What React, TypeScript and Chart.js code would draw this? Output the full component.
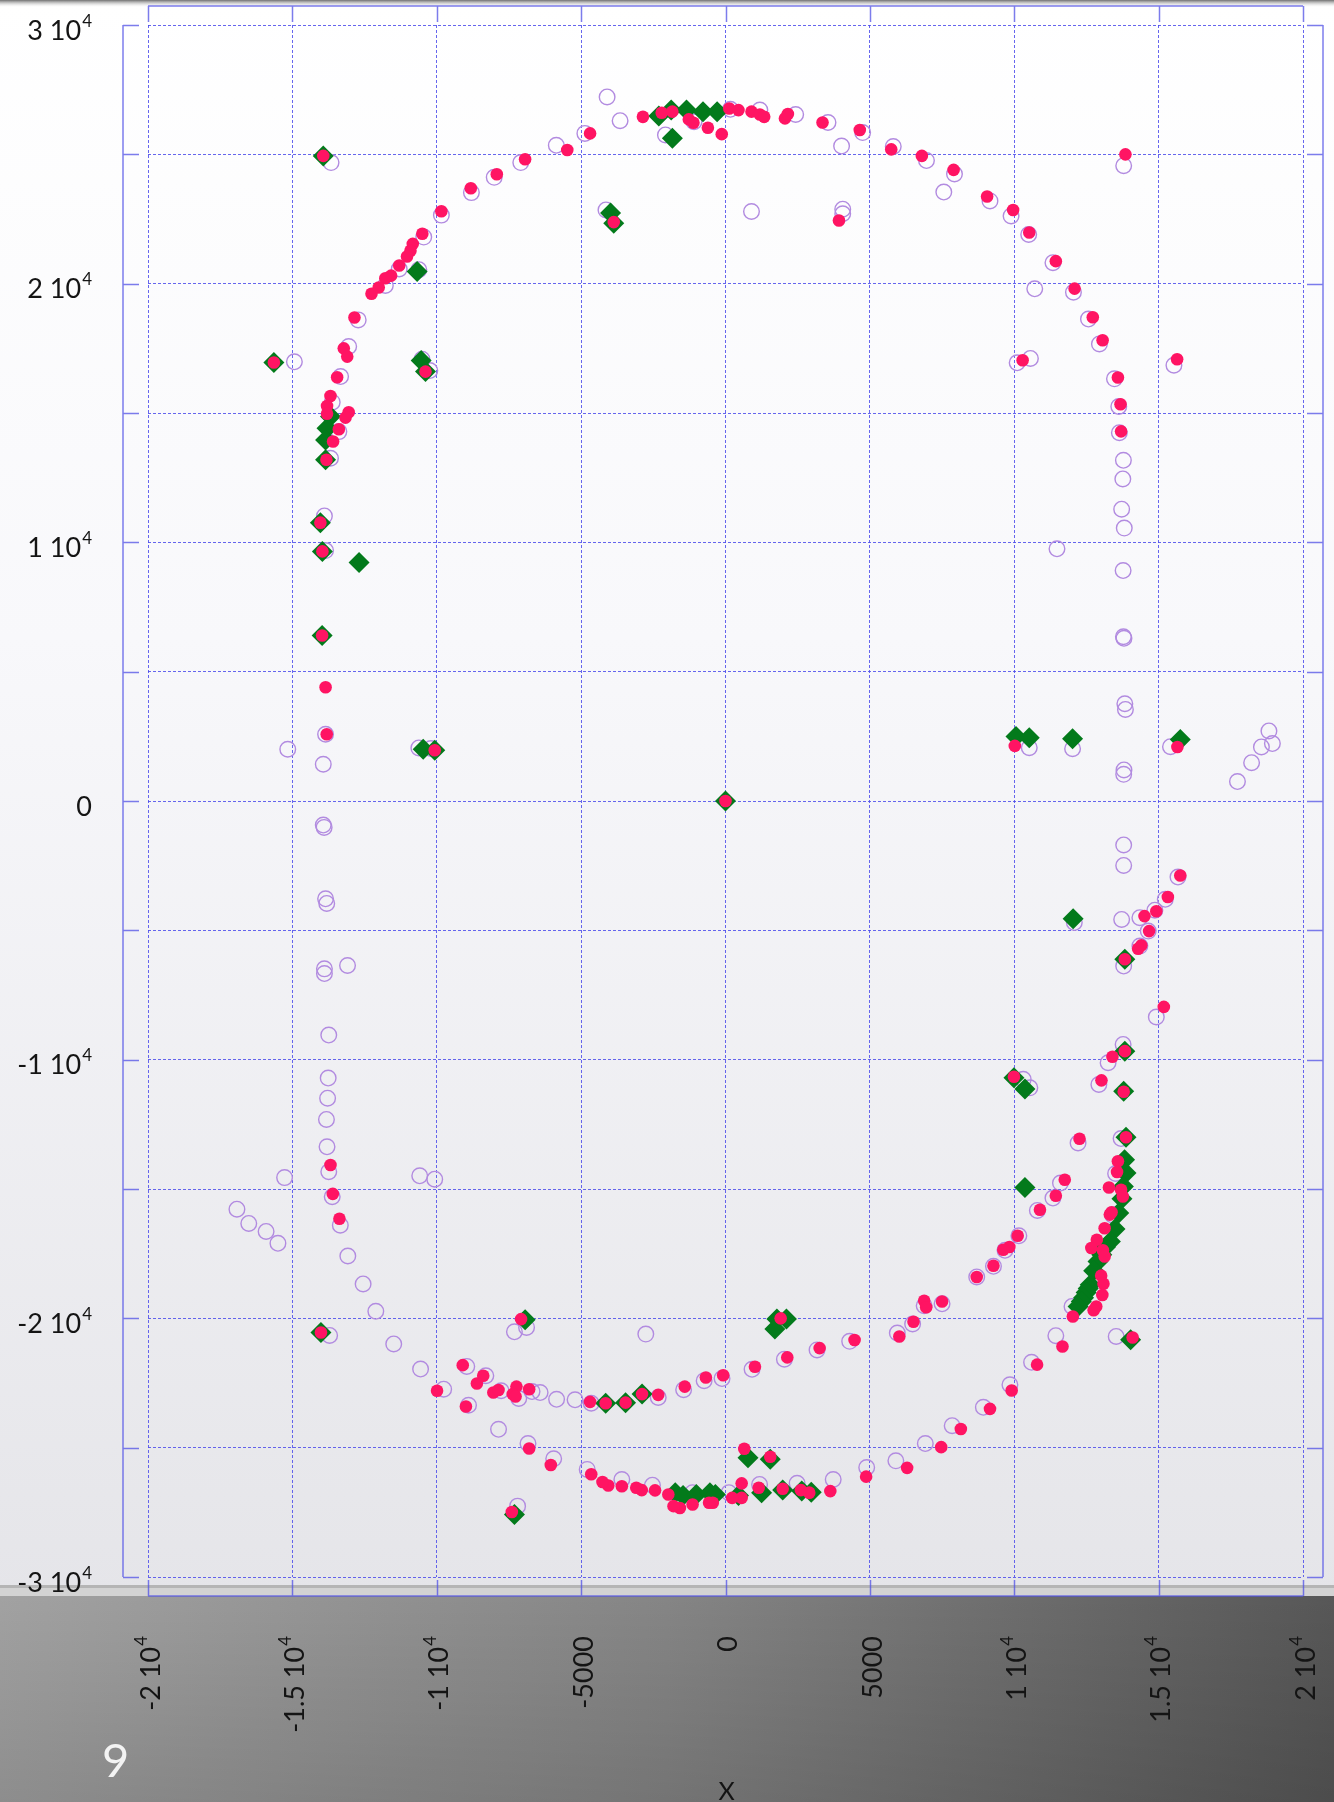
import React, { useEffect, useRef } from "react";
import { Chart, registerables } from "chart.js";

Chart.register(...registerables);

// ---------------- tick labels ----------------
const xTickValues = [-20000, -15000, -10000, -5000, 0, 5000, 10000, 15000, 20000];
const xTickLabels = ["-2 10^4", "-1.5 10^4", "-1 10^4", "-5000", "0", "5000", "1 10^4", "1.5 10^4", "2 10^4"];
const yTickValues = [30000, 20000, 10000, 0, -10000, -20000, -30000];
const yTickLabels = ["3 10^4", "2 10^4", "1 10^4", "0", "-1 10^4", "-2 10^4", "-3 10^4"];
const xAxisTitle = "X";
const cornerLabel = "9";

// ---------------- series: hollow purple circles ----------------
const hollowTopArc: [number, number][] = [
  [-4100, 27220], [-3650, 26300], [-4870, 25810], [-5860, 25350], [-7090, 24680], [-8010, 24110], [-8800, 23520], [-9840, 22650],
  [-2080, 25750], [-1090, 26260], [170, 26740], [1190, 26710], [2430, 26540], [3550, 26230], [4750, 25840], [4020, 25320],
  [5810, 25300], [6960, 24760], [7560, 23540], [7930, 24240], [9160, 23200], [9890, 22620], [10500, 21900],
  [-4140, 22850], [900, 22790], [4060, 22880], [4060, 22700],
];
const hollowLeft: [number, number][] = [
  [-13660, 24680], [-10450, 21800], [-11300, 20570], [-11780, 19930], [-12720, 18600], [-13050, 17570], [-13330, 16410],
  [-13620, 15420], [-14930, 16980], [-13390, 14280], [-13680, 13250], [-13890, 11020], [-13850, 9680], [-10620, 20540],
  [-10510, 17080], [-10240, 16640],
  [-13850, 2580], [-15160, 2000], [-13930, 1420], [-13930, -930], [-13900, -1020], [-13850, -3780], [-13810, -3960],
  [-13890, -6490], [-13890, -6670], [-13090, -6360], [-10590, -14490], [-10070, -14620], [-10620, 2050], [-10200, 2030],
  [-13740, -9050], [-13760, -10710], [-13780, -11490], [-13820, -12310], [-13800, -13370], [-13740, -14330], [-13620, -15300],
  [-13340, -16400], [-15270, -14560], [-16920, -15780], [-16510, -16330], [-15910, -16640], [-15500, -17100], [-13080, -17590],
  [-12550, -18670], [-12110, -19730], [-11490, -20990], [-13710, -20660],
];
const hollowRight: [number, number][] = [
  [13790, 24560], [11340, 20810], [12050, 19670], [12570, 18630], [12950, 17670], [10100, 16940], [10560, 17110], [15530, 16850],
  [13470, 16320], [13620, 15250], [13640, 14240], [10710, 19800], [13780, 13170], [13760, 12450], [13720, 11280], [13810, 10550],
  [11480, 9750], [13770, 8910], [13780, 6350], [13800, 6290],
  [13830, 3760], [13850, 3540], [13800, 1200], [13790, 1030], [18820, 2710], [18560, 2090], [18940, 2220], [18220, 1480],
  [17730, 750], [10520, 2060], [12020, 2020], [15410, 2100], [13790, -1700], [13790, -2490], [13720, -4580], [12080, -4700],
  [14350, -4510], [14870, -4220], [15230, -3800], [15670, -2940], [14640, -5030], [14350, -5610], [13790, -6380], [14920, -8350],
  [13770, -9410], [13250, -10120], [12930, -10960], [10310, -10760], [10540, -11090],
  [12210, -13220], [13700, -13050], [11600, -14770], [11340, -15350], [10800, -15830], [10160, -16810], [9680, -17370],
  [9280, -17990], [8700, -18400], [7500, -19440], [11440, -20670], [13530, -20700], [12000, -19540], [10600, -21700],
  [9850, -22570], [8930, -23440], [13510, -14400], [13400, -16000],
];
const hollowBottom: [number, number][] = [
  [-7310, -20520], [-6890, -20350], [-7200, -27260], [-8960, -21860], [-8300, -22220], [-9760, -22740], [-7770, -22800],
  [-7160, -23100], [-6700, -22830], [-6420, -22870], [-8900, -23360], [-4650, -23280], [-2330, -23060], [-1450, -22760],
  [-740, -22410], [-120, -22330], [920, -21970], [2040, -21580], [3170, -21220], [4300, -20890], [5950, -20570], [6480, -20220],
  [6880, -19510], [7850, -24150], [6920, -24840], [5900, -25510], [4890, -25770], [3730, -26230], [2480, -26380], [1180, -26420],
  [120, -26740], [-1140, -26740], [-2530, -26450], [-3590, -26230], [-4790, -25840], [-5950, -25430], [-6840, -24840],
  [-10560, -21960], [-5850, -23130], [-5210, -23150], [-2760, -20610], [-7860, -24290],
];

// ---------------- series: filled pink circles ----------------
const pinkTopArc: [number, number][] = [
  [-9840, 22800], [-8820, 23690], [-7920, 24230], [-6940, 24810], [-5480, 25170], [-4690, 25810], [-2860, 26450], [-2210, 26610],
  [-1840, 26650], [-1270, 26350], [-1110, 26220], [-610, 26030], [-130, 25780], [130, 26770], [450, 26710], [900, 26650],
  [1190, 26540], [1340, 26450], [2060, 26390], [2160, 26560], [3360, 26230], [4650, 25940], [5740, 25190], [6800, 24940],
  [7900, 24400], [9060, 23370], [9960, 22850], [10520, 21980], [-3870, 22380], [3930, 22440],
];
const pinkLeft: [number, number][] = [
  [-13930, 24940], [-10500, 21930], [-10830, 21540], [-10910, 21270], [-11030, 21050], [-11300, 20700], [-11580, 20310],
  [-11780, 20210], [-12010, 19850], [-12260, 19610], [-12850, 18690], [-13220, 17500], [-13100, 17180], [-13450, 16380],
  [-13680, 15660], [-13800, 15270], [-13800, 14970], [-13050, 15030], [-13160, 14820], [-13390, 14370], [-13590, 13900],
  [-13820, 13190], [-15640, 16950], [-10390, 16600], [-14030, 10760], [-13960, 9650],
  [-13970, 6400], [-13850, 4400], [-13810, 2580], [-13680, -14070], [-13600, -15190], [-13370, -16150], [-14010, -20550],
  [0, 0], [-10070, 1960],
];
const pinkRight: [number, number][] = [
  [13850, 25000], [11440, 20870], [12090, 19810], [12720, 18700], [13060, 17810], [10290, 17040], [15640, 17080], [13590, 16370],
  [13680, 15340], [13700, 14290],
  [10020, 2130], [15650, 2090], [15750, -2880], [15320, -3710], [14920, -4260], [14510, -4450], [14670, -5030], [14400, -5580],
  [14290, -5710], [13830, -6120], [15180, -7960], [13830, -9670], [13400, -9890], [13020, -10800], [9990, -10660], [13790, -11240],
  [12260, -13060], [13870, -13000], [11750, -14640], [11440, -15260], [10890, -15800], [10120, -16810], [9830, -17240],
  [9620, -17350], [9280, -17970], [8700, -18400], [7500, -19350],
  [13590, -13930], [13560, -14340], [13280, -14940], [13700, -15030], [13760, -15290], [13310, -15990], [13370, -15900],
  [13130, -16520], [12860, -16960], [12670, -17280], [13070, -17370], [13130, -17610], [13010, -18350], [13090, -18660],
  [13050, -19100], [12840, -19540], [12750, -19690], [12030, -19930],
  [14100, -20740], [11670, -21090], [10790, -21790], [9910, -22790], [9160, -23500], [8150, -24280], [7470, -24980],
];
const pinkBottom: [number, number][] = [
  [-7080, -20030], [-7400, -27490], [-4150, -23280], [-3460, -23260], [-2890, -22930], [1910, -20000], [650, -25040], [1550, -25350],
  [-9100, -21810], [-8390, -22220], [-8610, -22520], [-9990, -22800], [-8040, -22870], [-7860, -22770], [-7240, -22640],
  [-7370, -22930], [-7270, -23020], [-6800, -22740], [-8990, -23410], [-4690, -23230], [-2330, -22960], [-1410, -22640],
  [-680, -22290], [-80, -22200], [1020, -21870], [2140, -21510], [3260, -21150], [4470, -20840], [6020, -20700], [6510, -20130],
  [6880, -19320], [6950, -19570], [6290, -25780], [4870, -26120], [3630, -26680], [2900, -26740], [2610, -26640], [1980, -26590],
  [1150, -26550], [560, -26380], [560, -26940], [230, -26940], [-440, -27130], [-570, -27130], [-1140, -27200], [-1580, -27330],
  [-1800, -27260], [-1980, -26810], [-2440, -26650], [-2900, -26640], [-3090, -26550], [-3590, -26490], [-4060, -26460],
  [-4260, -26330], [-4650, -26030], [-6050, -25670], [-6800, -25030],
];

// ---------------- series: green diamonds ----------------
const diamondUpper: [number, number][] = [
  [-2310, 26480], [-1880, 26710], [-1350, 26710], [-780, 26650], [-290, 26650], [-1840, 25620], [-3980, 22730], [-3870, 22340],
  [-13930, 24940], [-10680, 20470], [-15640, 16950], [-10540, 17030], [-10390, 16600], [-13680, 14860], [-13800, 14410],
  [-13850, 13960], [-13850, 13190], [-14030, 10760], [-13960, 9650], [-12690, 9220],
  [-13970, 6400], [-10470, 2000], [-10070, 1960], [0, 0],
  [10060, 2490], [10520, 2450], [12020, 2410], [15750, 2380],
];
const diamondLower: [number, number][] = [
  [12040, -4550], [13830, -6120], [13830, -9670], [9990, -10700], [10370, -11130], [13790, -11220],
  [13870, -13000], [10370, -14940], [13820, -13870], [13870, -14380], [13780, -14900], [13730, -15380], [13620, -15930],
  [13490, -16550], [13330, -17030], [13160, -17240], [13030, -17540], [12900, -17800], [12750, -18160], [12630, -18700],
  [12560, -18850], [12490, -19000], [12400, -19200], [12320, -19350], [12210, -19540], [14030, -20830],
  [-14010, -20550],
  [-6940, -20050], [-7310, -27580], [-4150, -23280], [-3460, -23260], [-2890, -22930], [1780, -20030], [2110, -20030],
  [1710, -20410], [780, -25390], [1550, -25450], [-1740, -26740], [-1470, -26850], [-1010, -26810], [-540, -26740],
  [-350, -26810], [450, -26850], [1250, -26740], [1980, -26640], [2640, -26680], [2970, -26720],
];

const toXY = (arr: [number, number][]) => arr.map(([x, y]) => ({ x, y }));

const FONT = "Lato, 'DejaVu Sans', sans-serif";

function drawPowLabel(ctx: CanvasRenderingContext2D, text: string, rightX: number, cy: number, size: number) {
  const parts = text.split("^");
  const base = parts[0];
  const exp = parts[1] || "";
  const expSize = Math.round(size * 0.62);
  ctx.font = `${size}px ${FONT}`;
  const wb = ctx.measureText(base).width;
  ctx.font = `${expSize}px ${FONT}`;
  const we = exp ? ctx.measureText(exp).width : 0;
  const gap = exp ? 1 : 0;
  ctx.textAlign = "left";
  ctx.textBaseline = "middle";
  ctx.font = `${size}px ${FONT}`;
  ctx.fillText(base, rightX - we - gap - wb, cy);
  if (exp) {
    ctx.font = `${expSize}px ${FONT}`;
    ctx.fillText(exp, rightX - we, cy - size * 0.36);
  }
}

const backgroundPlugin = {
  id: "photoBackground",
  beforeDraw(chart: any) {
    const ctx: CanvasRenderingContext2D = chart.ctx;
    const W = chart.width;
    const H = chart.height;
    const area = chart.chartArea;
    const edge = area.bottom + 19;
    ctx.save();
    const g = ctx.createLinearGradient(0, 0, 0, edge);
    g.addColorStop(0, "#ffffff");
    g.addColorStop(0.4, "#f8f8fb");
    g.addColorStop(1, "#e5e5e9");
    ctx.fillStyle = g;
    ctx.fillRect(0, 0, W, edge);
    const t = ctx.createLinearGradient(0, 0, 0, 7);
    t.addColorStop(0, "#707070");
    t.addColorStop(1, "rgba(230,230,230,0)");
    ctx.fillStyle = t;
    ctx.fillRect(0, 0, W, 7);
    ctx.fillStyle = "#b5b5b5";
    ctx.fillRect(0, edge - 11, W, 3);
    ctx.fillStyle = "#d3d3d3";
    ctx.fillRect(0, edge - 8, W, 8);
    const d = ctx.createLinearGradient(0, edge, W, edge);
    d.addColorStop(0, "#a2a2a2");
    d.addColorStop(0.5, "#858585");
    d.addColorStop(1, "#575757");
    ctx.fillStyle = d;
    ctx.fillRect(0, edge, W, H - edge);
    const v = ctx.createLinearGradient(0, edge, 0, H);
    v.addColorStop(0, "rgba(0,0,0,0)");
    v.addColorStop(1, "rgba(0,0,0,0.13)");
    ctx.fillStyle = v;
    ctx.fillRect(0, edge, W, H - edge);
    ctx.restore();
  },
};

const axesPlugin = {
  id: "offsetAxes",
  afterDraw(chart: any) {
    const ctx: CanvasRenderingContext2D = chart.ctx;
    const a = chart.chartArea;
    const xs = chart.scales.x;
    const ys = chart.scales.y;
    const L = a.left - 25;
    const R = a.right + 20;
    const T = a.top - 19;
    const B = a.bottom + 19;
    const tl = 16;
    ctx.save();
    ctx.strokeStyle = "rgba(80,80,230,0.75)";
    ctx.lineWidth = 1.5;
    ctx.beginPath();
    ctx.moveTo(L, a.top); ctx.lineTo(L, a.bottom);
    ctx.moveTo(R, a.top); ctx.lineTo(R, a.bottom);
    ctx.moveTo(a.left, T); ctx.lineTo(a.right, T);
    ctx.moveTo(a.left, B); ctx.lineTo(a.right, B);
    ys.ticks.forEach((t: any) => {
      const y = Math.round(ys.getPixelForValue(t.value)) + 0.5;
      ctx.moveTo(L, y); ctx.lineTo(L + tl, y);
      ctx.moveTo(R, y); ctx.lineTo(R - tl, y);
    });
    xs.ticks.forEach((t: any) => {
      const x = Math.round(xs.getPixelForValue(t.value)) + 0.5;
      ctx.moveTo(x, T); ctx.lineTo(x, T + tl);
      ctx.moveTo(x, B); ctx.lineTo(x, B - tl);
    });
    ctx.stroke();

    ctx.fillStyle = "#141414";
    yTickValues.forEach((v, i) => {
      const y = ys.getPixelForValue(v);
      drawPowLabel(ctx, yTickLabels[i], a.left - 56, y + 6, 27);
    });
    xTickValues.forEach((v, i) => {
      const x = xs.getPixelForValue(v);
      ctx.save();
      ctx.translate(x + 3, a.bottom + 59);
      ctx.rotate(-Math.PI / 2);
      drawPowLabel(ctx, xTickLabels[i], 0, 0, 27);
      ctx.restore();
    });
    ctx.font = `25px ${FONT}`;
    ctx.textAlign = "center";
    ctx.textBaseline = "alphabetic";
    ctx.fillText(xAxisTitle, (a.left + a.right) / 2 + 1, a.bottom + 223);
    ctx.fillStyle = "#f3f3f3";
    ctx.font = `47px ${FONT}`;
    ctx.textAlign = "left";
    ctx.fillText(cornerLabel, 102, a.bottom + 200);
    ctx.restore();
  },
};

export default function App() {
  const ref = useRef<HTMLCanvasElement | null>(null);
  useEffect(() => {
    const canvas = ref.current;
    if (!canvas) return;
    const gridColor = "rgba(75,75,235,0.85)";
    const chart = new Chart(canvas, {
      type: "scatter",
      data: {
        datasets: [
          {
            label: "estimate",
            data: toXY([...pinkTopArc, ...pinkLeft, ...pinkRight, ...pinkBottom]),
            pointStyle: "circle",
            pointRadius: 6.3,
            pointHoverRadius: 6.3,
            pointBackgroundColor: "#ff1463",
            pointBorderColor: "#ff1463",
            pointBorderWidth: 0,
          },
          {
            label: "selected",
            data: toXY([...diamondUpper, ...diamondLower]),
            pointStyle: "rectRot",
            pointRadius: 10.5,
            pointHoverRadius: 10.5,
            pointBackgroundColor: "#037a1b",
            pointBorderColor: "#037a1b",
            pointBorderWidth: 0,
          },
          {
            label: "measured",
            data: toXY([...hollowTopArc, ...hollowLeft, ...hollowRight, ...hollowBottom]),
            pointStyle: "circle",
            pointRadius: 7.8,
            pointHoverRadius: 7.8,
            pointBackgroundColor: "rgba(0,0,0,0)",
            pointBorderColor: "#b28be0",
            pointBorderWidth: 1.4,
          },
        ],
      },
      options: {
        responsive: false,
        animation: false,
        devicePixelRatio: 1,
        events: [],
        layout: { padding: { left: 148, top: 25, right: 31, bottom: 225 }, autoPadding: false },
        plugins: { legend: { display: false }, tooltip: { enabled: false } },
        scales: {
          x: {
            type: "linear",
            min: -20000,
            max: 20000,
            ticks: { stepSize: 5000, display: false },
            grid: { color: gridColor, lineWidth: 1, drawTicks: false },
            border: { display: false, dash: [3, 2] },
            afterFit: (s: any) => { s.height = 0; },
          },
          y: {
            type: "linear",
            min: -30000,
            max: 30000,
            ticks: { stepSize: 5000, display: false },
            grid: { color: gridColor, lineWidth: 1, drawTicks: false },
            border: { display: false, dash: [3, 2] },
            afterFit: (s: any) => { s.width = 0; },
          },
        },
      } as any,
      plugins: [backgroundPlugin, axesPlugin],
    });
    return () => chart.destroy();
  }, []);
  return (
    <div style={{ position: "absolute", left: 0, top: 0, width: 1334, height: 1802, overflow: "hidden" }}>
      <canvas ref={ref} width={1334} height={1802} style={{ display: "block", width: 1334, height: 1802 }} />
    </div>
  );
}
